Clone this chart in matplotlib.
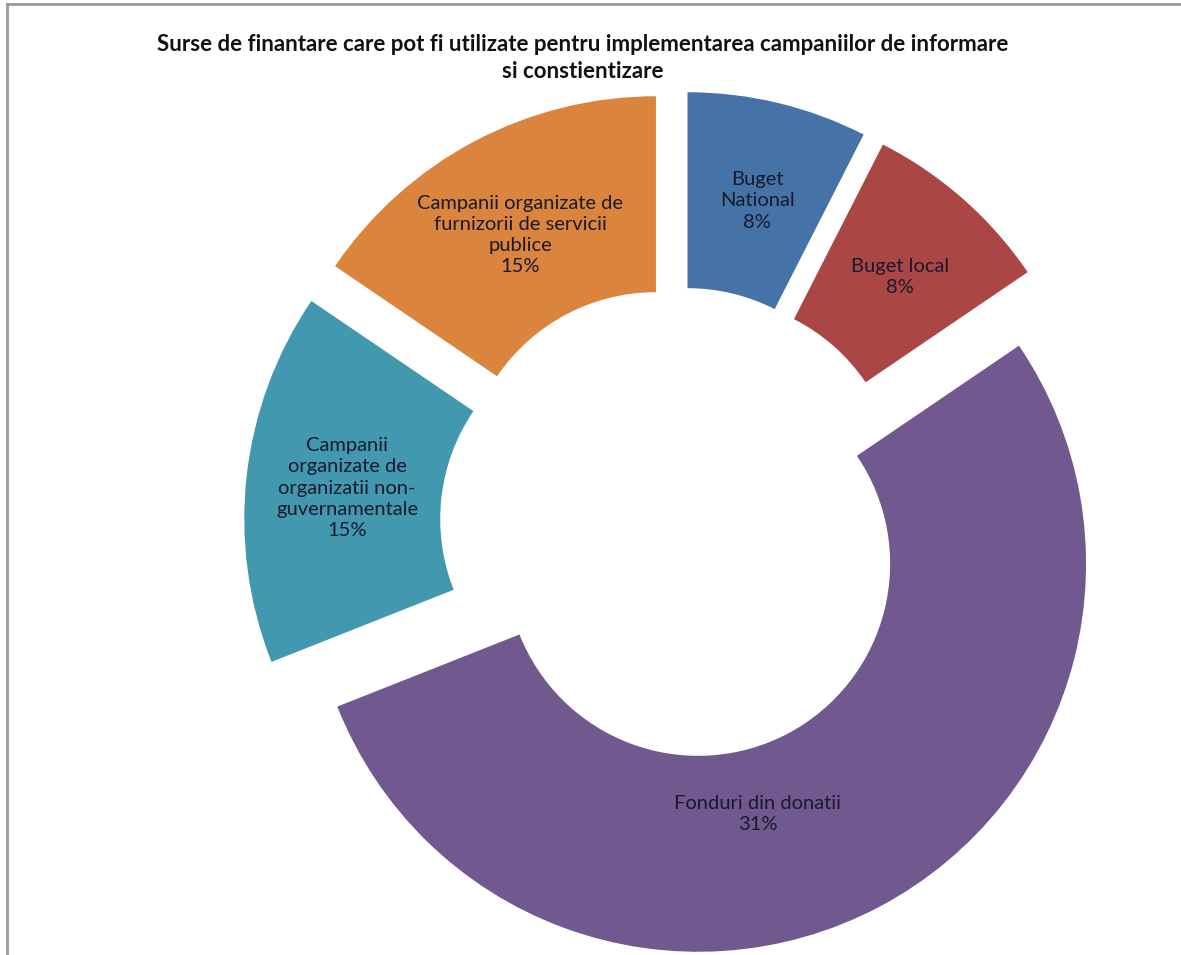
import matplotlib.pyplot as plt
from matplotlib.lines import Line2D

# slice data, clockwise from 12 o'clock
categories = [
    "Buget\nNational",
    "Buget local",
    "Fonduri din donatii",
    "Campanii\norganizate de\norganizatii non-\nguvernamentale",
    "Campanii organizate de\nfurnizorii de servicii\npublice",
]
# wedge sizes as drawn (share of the ring)
shares = [7.5, 8, 53.5, 15.5, 15.5]
# percentages printed on the chart
pct_labels = ["8%", "8%", "31%", "15%", "15%"]
colors = ["#4572A7", "#AA4643", "#71588F", "#4198AF", "#DB843D"]

TITLE = ("Surse de finantare care pot fi utilizate pentru implementarea campaniilor de informare\n"
         "si constientizare")

W, H = 1181, 955
PX = 388.0          # outer radius in pixels
CX, CY = 677, 524   # ring centre in pixels (from top-left)

fig = plt.figure(figsize=(W / 100, H / 100), dpi=100)
ax = fig.add_axes([0, 0, 1, 1])

ax.pie(
    shares,
    colors=colors,
    startangle=90,
    counterclock=False,
    radius=1.0,
    explode=[45 / PX] * len(shares),
    wedgeprops=dict(width=0.505, edgecolor="none"),
)
ax.set_aspect("auto")
ax.set_xlim(-CX / PX, (W - CX) / PX)
ax.set_ylim(-(H - CY) / PX, CY / PX)
ax.axis("off")

# label positions in pixels (x, y from top)
label_pos = [(757, 201), (900, 277), (758, 814), (347, 488), (520, 235)]
for cat, pct, (x, y) in zip(categories, pct_labels, label_pos):
    fig.text(x / W, 1 - y / H, f"{cat}\n{pct}", ha="center", va="center",
             fontsize=14.5, family="Lato", color="#1a1a2e", linespacing=1.3)

fig.text(583 / W, 1 - 58 / H, TITLE, ha="center", va="center", fontsize=16,
         fontweight="bold", family="Lato", color="#111111", linespacing=1.3)

# chart frame (top and left edges visible)
fig.add_artist(Line2D([7 / W, 7 / W], [0, 1 - 4 / H], transform=fig.transFigure,
                      color="#9a9a9a", lw=2))
fig.add_artist(Line2D([7 / W, 1], [1 - 4 / H, 1 - 4 / H], transform=fig.transFigure,
                      color="#9a9a9a", lw=2))

fig.savefig("out.png", dpi=100)
